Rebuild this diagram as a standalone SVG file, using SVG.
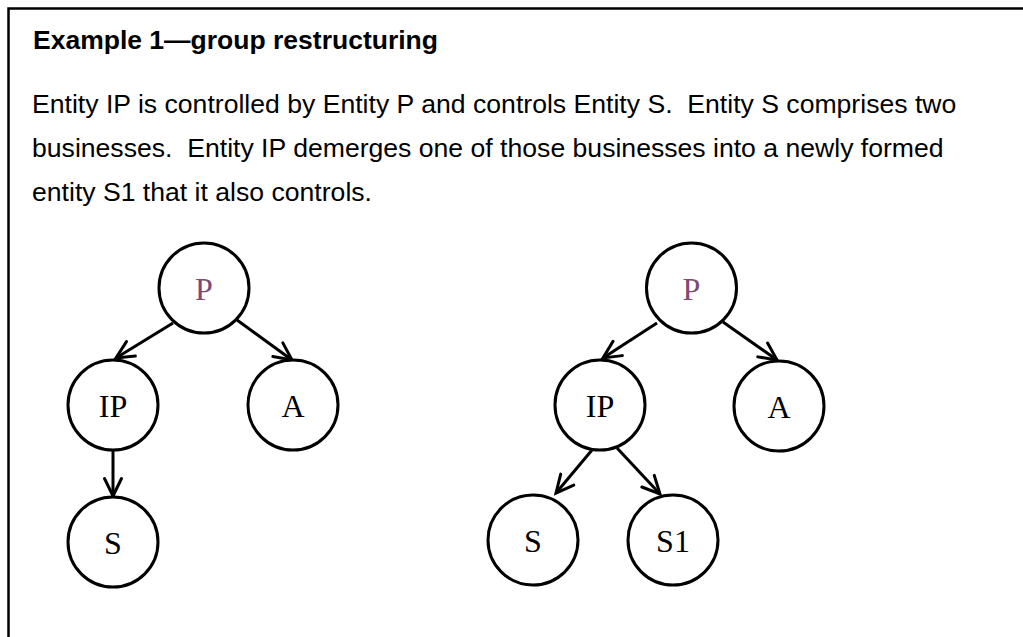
<svg xmlns="http://www.w3.org/2000/svg" width="1023" height="637" viewBox="0 0 1023 637">
<style>
.body{font-family:"Liberation Sans",Arial,sans-serif;font-size:26.6px;fill:#000;white-space:pre}
.title{font-family:"Liberation Sans",Arial,sans-serif;font-size:26.5px;font-weight:bold;fill:#000}
.node circle{fill:#fff;stroke:#000;stroke-width:3}
.node text{font-family:"Liberation Serif","Times New Roman",serif;font-size:32px;fill:#000;text-anchor:middle}
.node text.top{fill:#7b4b72}
.edges line{stroke:#000;stroke-width:3;marker-end:url(#arr)}
</style>
<defs>
<marker id="arr" markerUnits="userSpaceOnUse" viewBox="-20 -11 24 22" markerWidth="24" markerHeight="22" refX="0" refY="0" orient="auto">
<path d="M-17.5,-8.5 L0,0 L-17.5,8.5" fill="none" stroke="#000" stroke-width="3" stroke-linecap="round" stroke-linejoin="miter"/>
</marker>
</defs>
<rect width="1023" height="637" fill="#fff"/>
<path d="M8.5,640 V8.5 H1030" fill="none" stroke="#000" stroke-width="2.5"/>
<g id="text">
<text class="title" x="33" y="49">Example 1—group restructuring</text>
<text class="body" x="32" y="113" xml:space="preserve">Entity IP is controlled by Entity P and controls Entity S.  Entity S comprises two</text>
<text class="body" x="32" y="157" xml:space="preserve">businesses.  Entity IP demerges one of those businesses into a newly formed</text>
<text class="body" x="32" y="201">entity S1 that it also controls.</text>
</g>
<g class="edges" id="connectors">
<line x1="173" y1="323" x2="116" y2="358"/>
<line x1="237" y1="320" x2="292" y2="360"/>
<line x1="113" y1="450" x2="113" y2="496"/>
<line x1="657" y1="323" x2="603" y2="358"/>
<line x1="723" y1="322" x2="777" y2="360"/>
<line x1="592" y1="450" x2="556" y2="493"/>
<line x1="617" y1="448" x2="660" y2="494"/>
</g>
<g class="node" id="L-P"><circle cx="204" cy="288" r="45"/><text class="top" x="204" y="300">P</text></g>
<g class="node" id="L-IP"><circle cx="113" cy="405" r="45"/><text x="113" y="417">IP</text></g>
<g class="node" id="L-A"><circle cx="293" cy="405" r="45"/><text x="293" y="417">A</text></g>
<g class="node" id="L-S"><circle cx="113" cy="542" r="45"/><text x="113" y="554">S</text></g>
<g class="node" id="R-P"><circle cx="691.5" cy="288" r="45"/><text class="top" x="691.5" y="300">P</text></g>
<g class="node" id="R-IP"><circle cx="600" cy="405" r="45"/><text x="600" y="417">IP</text></g>
<g class="node" id="R-A"><circle cx="779" cy="406" r="45"/><text x="779" y="418">A</text></g>
<g class="node" id="R-S"><circle cx="533" cy="540" r="45"/><text x="533" y="552">S</text></g>
<g class="node" id="R-S1"><circle cx="673" cy="540" r="45"/><text x="673" y="552">S1</text></g>
</svg>
